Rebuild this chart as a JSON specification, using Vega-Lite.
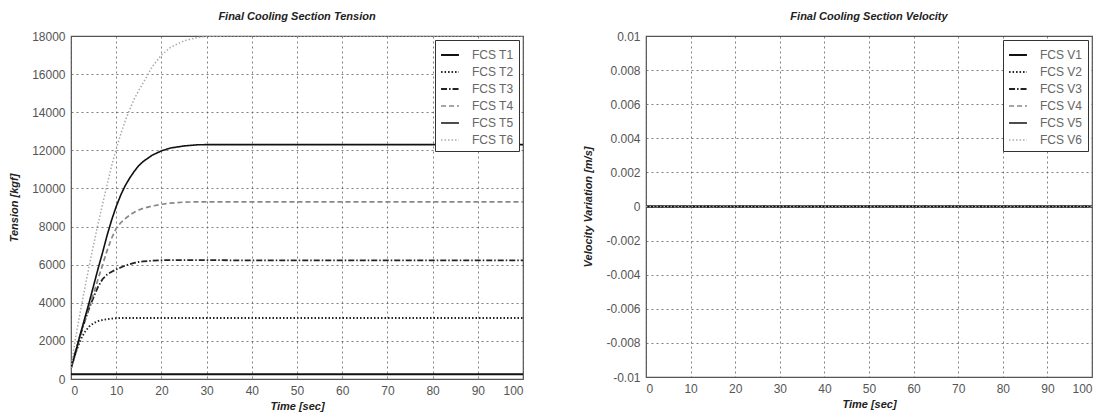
{
  "$schema": "https://vega.github.io/schema/vega-lite/v6.json",
  "padding": {"left": 8, "top": 10, "right": 5, "bottom": 5},
  "background": "white",
  "bounds": "flush",
  "spacing": 123,
  "datasets": {
    "tension": [
      {"t": 0, "FCS T1": 250, "FCS T2": 570, "FCS T3": 570, "FCS T4": 570, "FCS T5": 570, "FCS T6": 570},
      {"t": 1, "FCS T1": 250, "FCS T2": 1350, "FCS T3": 1400, "FCS T4": 1400, "FCS T5": 1400, "FCS T6": 2150},
      {"t": 2, "FCS T1": 250, "FCS T2": 2000, "FCS T3": 2250, "FCS T4": 2250, "FCS T5": 2300, "FCS T6": 3450},
      {"t": 3, "FCS T1": 250, "FCS T2": 2450, "FCS T3": 3000, "FCS T4": 3050, "FCS T5": 3150, "FCS T6": 4700},
      {"t": 4, "FCS T1": 250, "FCS T2": 2750, "FCS T3": 3700, "FCS T4": 3800, "FCS T5": 4000, "FCS T6": 5900},
      {"t": 5, "FCS T1": 250, "FCS T2": 2930, "FCS T3": 4300, "FCS T4": 4500, "FCS T5": 4900, "FCS T6": 7050},
      {"t": 6, "FCS T1": 250, "FCS T2": 3040, "FCS T3": 4850, "FCS T4": 5250, "FCS T5": 5800, "FCS T6": 8150},
      {"t": 7, "FCS T1": 250, "FCS T2": 3100, "FCS T3": 5250, "FCS T4": 6000, "FCS T5": 6650, "FCS T6": 9200},
      {"t": 8, "FCS T1": 250, "FCS T2": 3140, "FCS T3": 5480, "FCS T4": 6750, "FCS T5": 7550, "FCS T6": 10200},
      {"t": 9, "FCS T1": 250, "FCS T2": 3170, "FCS T3": 5630, "FCS T4": 7400, "FCS T5": 8350, "FCS T6": 11200},
      {"t": 10, "FCS T1": 250, "FCS T2": 3190, "FCS T3": 5750, "FCS T4": 7900, "FCS T5": 9050, "FCS T6": 12050},
      {"t": 11, "FCS T1": 250, "FCS T2": 3200, "FCS T3": 5850, "FCS T4": 8200, "FCS T5": 9650, "FCS T6": 12850},
      {"t": 12, "FCS T1": 250, "FCS T2": 3200, "FCS T3": 5950, "FCS T4": 8420, "FCS T5": 10150, "FCS T6": 13550},
      {"t": 13, "FCS T1": 250, "FCS T2": 3200, "FCS T3": 6030, "FCS T4": 8600, "FCS T5": 10550, "FCS T6": 14150},
      {"t": 14, "FCS T1": 250, "FCS T2": 3200, "FCS T3": 6090, "FCS T4": 8750, "FCS T5": 10900, "FCS T6": 14700},
      {"t": 15, "FCS T1": 250, "FCS T2": 3200, "FCS T3": 6140, "FCS T4": 8870, "FCS T5": 11200, "FCS T6": 15150},
      {"t": 16, "FCS T1": 250, "FCS T2": 3200, "FCS T3": 6170, "FCS T4": 8960, "FCS T5": 11420, "FCS T6": 15550},
      {"t": 18, "FCS T1": 250, "FCS T2": 3200, "FCS T3": 6210, "FCS T4": 9080, "FCS T5": 11750, "FCS T6": 16400},
      {"t": 20, "FCS T1": 250, "FCS T2": 3200, "FCS T3": 6230, "FCS T4": 9170, "FCS T5": 11970, "FCS T6": 17000},
      {"t": 22, "FCS T1": 250, "FCS T2": 3200, "FCS T3": 6240, "FCS T4": 9230, "FCS T5": 12120, "FCS T6": 17400},
      {"t": 25, "FCS T1": 250, "FCS T2": 3200, "FCS T3": 6240, "FCS T4": 9280, "FCS T5": 12230, "FCS T6": 17750},
      {"t": 28, "FCS T1": 250, "FCS T2": 3200, "FCS T3": 6240, "FCS T4": 9300, "FCS T5": 12290, "FCS T6": 17920},
      {"t": 30, "FCS T1": 250, "FCS T2": 3200, "FCS T3": 6240, "FCS T4": 9300, "FCS T5": 12300, "FCS T6": 17980},
      {"t": 35, "FCS T1": 250, "FCS T2": 3200, "FCS T3": 6230, "FCS T4": 9300, "FCS T5": 12300, "FCS T6": 18000},
      {"t": 40, "FCS T1": 250, "FCS T2": 3200, "FCS T3": 6230, "FCS T4": 9300, "FCS T5": 12300, "FCS T6": 18000},
      {"t": 50, "FCS T1": 250, "FCS T2": 3200, "FCS T3": 6230, "FCS T4": 9300, "FCS T5": 12300, "FCS T6": 18000},
      {"t": 60, "FCS T1": 250, "FCS T2": 3200, "FCS T3": 6230, "FCS T4": 9300, "FCS T5": 12300, "FCS T6": 18000},
      {"t": 70, "FCS T1": 250, "FCS T2": 3200, "FCS T3": 6230, "FCS T4": 9300, "FCS T5": 12300, "FCS T6": 18000},
      {"t": 80, "FCS T1": 250, "FCS T2": 3200, "FCS T3": 6230, "FCS T4": 9300, "FCS T5": 12300, "FCS T6": 18000},
      {"t": 90, "FCS T1": 250, "FCS T2": 3200, "FCS T3": 6230, "FCS T4": 9300, "FCS T5": 12300, "FCS T6": 18000},
      {"t": 100, "FCS T1": 250, "FCS T2": 3200, "FCS T3": 6230, "FCS T4": 9300, "FCS T5": 12300, "FCS T6": 18000}
    ],
    "velocity": [
      {"t": 0, "FCS V1": 0, "FCS V2": 0, "FCS V3": 0, "FCS V4": 0, "FCS V5": 0, "FCS V6": 0},
      {"t": 100, "FCS V1": 0, "FCS V2": 0, "FCS V3": 0, "FCS V4": 0, "FCS V5": 0, "FCS V6": 0}
    ]
  },
  "config": {
    "font": "Liberation Sans",
    "view": {"stroke": "#555", "strokeWidth": 1.2},
    "axis": {
      "labelFont": "Liberation Sans",
      "labelFontSize": 12,
      "labelColor": "#555",
      "titleFont": "Liberation Sans",
      "titleFontSize": 11,
      "titleFontWeight": "bold",
      "titleFontStyle": "italic",
      "titleColor": "#222",
      "grid": true,
      "gridColor": "#555",
      "gridDash": [2, 3],
      "gridOpacity": 0.75,
      "domain": false,
      "ticks": false,
      "labelPadding": 6
    },
    "title": {
      "font": "Liberation Sans",
      "fontSize": 11,
      "fontWeight": "bold",
      "fontStyle": "italic",
      "color": "#222",
      "offset": 8
    },
    "legend": {
      "orient": "top-right",
      "offset": 4,
      "strokeColor": "#333",
      "fillColor": "white",
      "padding": 5,
      "labelFont": "Liberation Sans",
      "labelFontSize": 12,
      "labelColor": "#666",
      "labelOffset": 12,
      "symbolSize": 320,
      "symbolType": "stroke",
      "rowPadding": 1
    }
  },
  "hconcat": [
    {
      "width": 452,
      "height": 343,
      "title": "Final Cooling Section Tension",
      "data": {"name": "tension"},
      "transform": [
        {"fold": ["FCS T1", "FCS T2", "FCS T3", "FCS T4", "FCS T5", "FCS T6"], "as": ["series", "value"]}
      ],
      "mark": {"type": "line", "clip": true},
      "encoding": {
        "x": {
          "field": "t", "type": "quantitative",
          "scale": {"domain": [0, 100], "nice": false},
          "axis": {"title": "Time [sec]", "values": [0, 10, 20, 30, 40, 50, 60, 70, 80, 90, 100], "titlePadding": 4}
        },
        "y": {
          "field": "value", "type": "quantitative",
          "scale": {"domain": [0, 18000], "nice": false},
          "axis": {"title": "Tension [kgf]", "format": "d", "values": [0, 2000, 4000, 6000, 8000, 10000, 12000, 14000, 16000, 18000], "titlePadding": 12}
        },
        "color": {
          "field": "series", "type": "nominal",
          "scale": {"domain": ["FCS T1", "FCS T2", "FCS T3", "FCS T4", "FCS T5", "FCS T6"], "range": ["#111111", "#222222", "#222222", "#888888", "#111111", "#aaaaaa"]},
          "legend": {"title": null}
        },
        "strokeDash": {
          "field": "series", "type": "nominal",
          "scale": {"domain": ["FCS T1", "FCS T2", "FCS T3", "FCS T4", "FCS T5", "FCS T6"], "range": [[1, 0], [1.5, 2], [6, 2, 1.5, 2], [5, 3], [1, 0], [1.5, 2]]},
          "legend": {"title": null}
        },
        "strokeWidth": {
          "field": "series", "type": "nominal",
          "scale": {"domain": ["FCS T1", "FCS T2", "FCS T3", "FCS T4", "FCS T5", "FCS T6"], "range": [2, 1.5, 1.5, 1.2, 2, 1.2]},
          "legend": {"title": null}
        }
      }
    },
    {
      "width": 446,
      "height": 341,
      "title": "Final Cooling Section Velocity",
      "data": {"name": "velocity"},
      "transform": [
        {"fold": ["FCS V1", "FCS V2", "FCS V3", "FCS V4", "FCS V5", "FCS V6"], "as": ["series", "value"]}
      ],
      "mark": {"type": "line", "clip": true},
      "encoding": {
        "x": {
          "field": "t", "type": "quantitative",
          "scale": {"domain": [0, 100], "nice": false},
          "axis": {"title": "Time [sec]", "values": [0, 10, 20, 30, 40, 50, 60, 70, 80, 90, 100], "titlePadding": 4}
        },
        "y": {
          "field": "value", "type": "quantitative",
          "scale": {"domain": [-0.01, 0.01], "nice": false},
          "axis": {"title": "Velocity Variation [m/s]", "format": ".3~f", "labelExpr": "replace(datum.label, '\u2212', '-')", "values": [-0.01, -0.008, -0.006, -0.004, -0.002, 0, 0.002, 0.004, 0.006, 0.008, 0.01], "titlePadding": 12}
        },
        "color": {
          "field": "series", "type": "nominal",
          "scale": {"domain": ["FCS V1", "FCS V2", "FCS V3", "FCS V4", "FCS V5", "FCS V6"], "range": ["#111111", "#222222", "#222222", "#888888", "#111111", "#aaaaaa"]},
          "legend": {"title": null}
        },
        "strokeDash": {
          "field": "series", "type": "nominal",
          "scale": {"domain": ["FCS V1", "FCS V2", "FCS V3", "FCS V4", "FCS V5", "FCS V6"], "range": [[1, 0], [1.5, 2], [6, 2, 1.5, 2], [5, 3], [1, 0], [1.5, 2]]},
          "legend": {"title": null}
        },
        "strokeWidth": {
          "field": "series", "type": "nominal",
          "scale": {"domain": ["FCS V1", "FCS V2", "FCS V3", "FCS V4", "FCS V5", "FCS V6"], "range": [2, 1.5, 1.5, 1.2, 2, 1.2]},
          "legend": {"title": null}
        }
      }
    }
  ],
  "resolve": {"scale": {"color": "independent", "strokeDash": "independent", "strokeWidth": "independent"}}
}
